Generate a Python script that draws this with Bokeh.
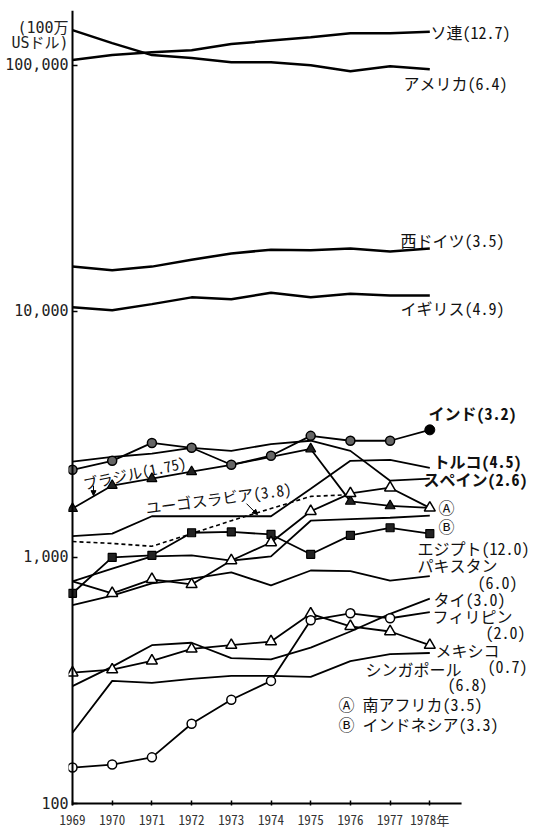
from bokeh.plotting import figure
from bokeh.models import (FixedTicker, Arrow, NormalHead, NumeralTickFormatter,
                          LogAxis, CustomJSTickFormatter)
from bokeh.embed import file_html
from bokeh.resources import INLINE
from bokeh.core.properties import value

# ---- data (million US$) ----
years = [1969, 1970, 1971, 1972, 1973, 1974, 1975, 1976, 1977, 1978]
ussr = [105000, 110000, 113000, 115000, 122000, 126000, 130000, 135000, 135000, 137000]
usa = [139000, 123000, 110000, 107000, 103000, 103000, 100000, 94600, 99100, 96300]
w_germany = [15200, 14700, 15200, 16200, 17200, 17800, 17700, 18000, 17500, 18000]
uk = [10400, 10100, 10700, 11400, 11200, 11900, 11400, 11800, 11600, 11600]
india = [2270, 2470, 2920, 2790, 2380, 2590, 3120, 2980, 2980, 3300]
spain = [2450, 2560, 2640, 2790, 2710, 2890, 2980, 2710, 2050, 2090]
brazil = [1580, 1960, 2090, 2230, 2380, 2560, 2760, 1690, 1620, 1590]
turkey = [1220, 1250, 1470, 1470, 1470, 1470, 1900, 2470, 2490, 2310]
yugo_years = [1969, 1970, 1971, 1972, 1973, 1974, 1975, 1976]
yugoslavia = [1160, 1140, 1110, 1250, 1410, 1580, 1770, 1800]
egypt = [715, 1000, 1020, 1260, 1270, 1240, 1030, 1230, 1320, 1250]
indonesia = [800, 900, 1010, 1020, 970, 1010, 1410, 1430, 1450, 1480]
s_africa = [800, 715, 815, 777, 972, 1150, 1540, 1820, 1920, 1590]
pakistan = [640, 700, 785, 820, 870, 770, 885, 880, 805, 840]
mexico = [340, 350, 380, 425, 440, 455, 590, 525, 500, 440]
philippines = [140, 144, 154, 211, 264, 315, 556, 593, 566, 599]
thailand = [300, 360, 440, 450, 390, 385, 430, 500, 590, 680]
singapore = [194, 315, 309, 321, 330, 330, 327, 379, 405, 409]

y_ticks = [100, 1000, 10000, 100000]
unit_ticks = [142000, 123000]
unit_text = ["(100万", "USドル)"]
last_label = "1978年"

# ---- page-pixel helper for annotation placement ----
PX0, PXYR, PY100, PXDEC = 72, 39.7, 806, 247.0


def at(px, py):
    return 1969 + (px - PX0) / PXYR, 10 ** (2 + (PY100 - py) / PXDEC)


FL, FR, FT, FB = 68, 539, 10, 808   # frame edges (page px)
x0, y0 = at(FL, FB)
x1, y1 = at(FR, FT)

p = figure(width=539, height=831, x_range=(x0, x1), y_range=(y0, y1),
           y_axis_type="log", output_backend="svg", toolbar_location=None,
           min_border_left=FL, min_border_right=0, min_border_top=FT,
           min_border_bottom=831 - FB)
p.outline_line_color = None
p.grid.visible = False

MONO = "'Noto Sans Mono CJK JP', 'Noto Sans CJK JP'"

# y axis: labels only (in side panel)
ya = p.yaxis[0]
ya.ticker = FixedTicker(ticks=y_ticks + unit_ticks)
ya.formatter = NumeralTickFormatter(format="0,0")
ya.major_label_overrides = {float(t): s for t, s in zip(unit_ticks, unit_text)}
ya.axis_line_color = None
ya.major_tick_line_color = None
ya.minor_tick_line_color = None
ya.major_tick_in = 0
ya.major_tick_out = 0
ya.major_label_standoff = 0
ya.major_label_text_font = "'DejaVu Sans Mono', 'Noto Sans CJK JP'"
ya.major_label_text_font_size = "15px"
ya.major_label_text_color = "#222"

# y axis rule + ticks at 1969
yr = LogAxis(fixed_location=1969, ticker=FixedTicker(ticks=y_ticks),
             formatter=CustomJSTickFormatter(code="return ''"),
             major_tick_in=5, major_tick_out=0, minor_tick_line_color=None,
             axis_line_width=2, major_tick_line_width=1.5,
             major_label_standoff=0)
p.add_layout(yr, "left")

# x axis
xa = p.xaxis[0]
xa.ticker = FixedTicker(ticks=years)
xa.major_label_overrides = {1978: last_label}
xa.major_tick_in = 5
xa.major_tick_out = 0
xa.minor_tick_line_color = None
xa.axis_line_color = None
xa.major_tick_line_width = 1.5
xa.major_label_standoff = 4
xa.major_label_text_font = MONO
xa.major_label_text_font_size = "13px"
xa.major_label_text_color = "#333"

K = "black"
# x axis line
p.line([1969, 1978.8], [100, 100], line_width=2, color=K)

# lines
for s in [ussr, usa, w_germany, uk]:
    p.line(years, s, line_width=2.5, color=K)
for s in [india, spain, brazil, turkey, egypt, indonesia, s_africa, pakistan,
          mexico, philippines, thailand, singapore]:
    p.line(years, s, line_width=1.8, color=K)
p.line(yugo_years, yugoslavia, line_width=1.6, color=K, line_dash="4 3")

# markers
p.scatter(years[:9], india[:9], marker="circle", size=9, fill_color="#666",
          line_color=K, line_width=1.5)
p.scatter(years[9:], india[9:], marker="circle", size=10, fill_color=K, line_color=K)
bi = [0, 1, 2, 3, 6, 7, 8]
p.scatter([years[i] for i in bi], [brazil[i] for i in bi], marker="triangle",
          size=10, fill_color="#222", line_color=K, line_width=1.2)
p.scatter(years, egypt, marker="square", size=8, fill_color="#222",
          line_color=K, line_width=1.2)
p.scatter(years[1:], s_africa[1:], marker="triangle", size=11, fill_color="white",
          line_color=K, line_width=1.5)
p.scatter(years, mexico, marker="triangle", size=11, fill_color="white",
          line_color=K, line_width=1.5)
p.scatter(years[:9], philippines[:9], marker="circle", size=9, fill_color="white",
          line_color=K, line_width=1.5)

JP = value(MONO)

normal_labels = [
    ("ソ連(12.7)", 430, 32),
    ("アメリカ(6.4)", 403, 83),
    ("西ドイツ(3.5)", 400, 240),
    ("イギリス(4.9)", 400, 309),
    ("Ⓐ", 438, 508),
    ("Ⓑ", 438, 527),
    ("エジプト(12.0)", 417, 550),
    ("パキスタン", 417, 567),
    ("(6.0)", 477, 584),
    ("タイ(3.0)", 433, 601),
    ("フィリピン", 432, 618),
    ("(2.0)", 485, 634),
    ("メキシコ", 435, 652),
    ("(0.7)", 487, 668),
    ("シンガポール", 365, 671),
    ("(6.8)", 447, 686),
    ("Ⓐ 南アフリカ(3.5)", 338, 706),
    ("Ⓑ インドネシア(3.3)", 338, 726),
]
bold_labels = [
    ("インド(3.2)", 428, 414),
    ("トルコ(4.5)", 433, 462),
    ("スペイン(2.6)", 423, 480),
]


def put(labels, style):
    xs, ys, ts = [], [], []
    for t, px, py in labels:
        x, y = at(px, py)
        xs.append(x)
        ys.append(y)
        ts.append(t)
    p.text(xs, ys, text=ts, text_font=JP, text_font_size="16px",
           text_font_style=style, text_baseline="middle", text_align="left",
           text_color="#111")


put(normal_labels, "normal")
put(bold_labels, "bold")

# rotated labels
bx, by = at(134, 474)
p.text([bx], [by], text=["ブラジル(1.75)"], text_font=JP, text_font_size="15px",
       angle=12, angle_units="deg", text_align="center", text_baseline="middle",
       text_color="#111")
yx, yy = at(218, 499)
p.text([yx], [yy], text=["ユーゴスラビア(3.8)"], text_font=JP, text_font_size="15.5px",
       angle=7.5, angle_units="deg", text_align="center", text_baseline="middle",
       text_color="#111")

a1s, a1e = at(93, 487), at(93, 497)
p.add_layout(Arrow(end=NormalHead(size=5, fill_color=K, line_color=K),
                   x_start=a1s[0], y_start=a1s[1], x_end=a1e[0], y_end=a1e[1],
                   line_width=1, line_color=K))
a2s, a2e = at(246, 505), at(257, 516)
p.add_layout(Arrow(end=NormalHead(size=5, fill_color=K, line_color=K),
                   x_start=a2s[0], y_start=a2s[1], x_end=a2e[0], y_end=a2e[1],
                   line_width=1, line_color=K))

open("out.html", "w").write(file_html(p, INLINE))
